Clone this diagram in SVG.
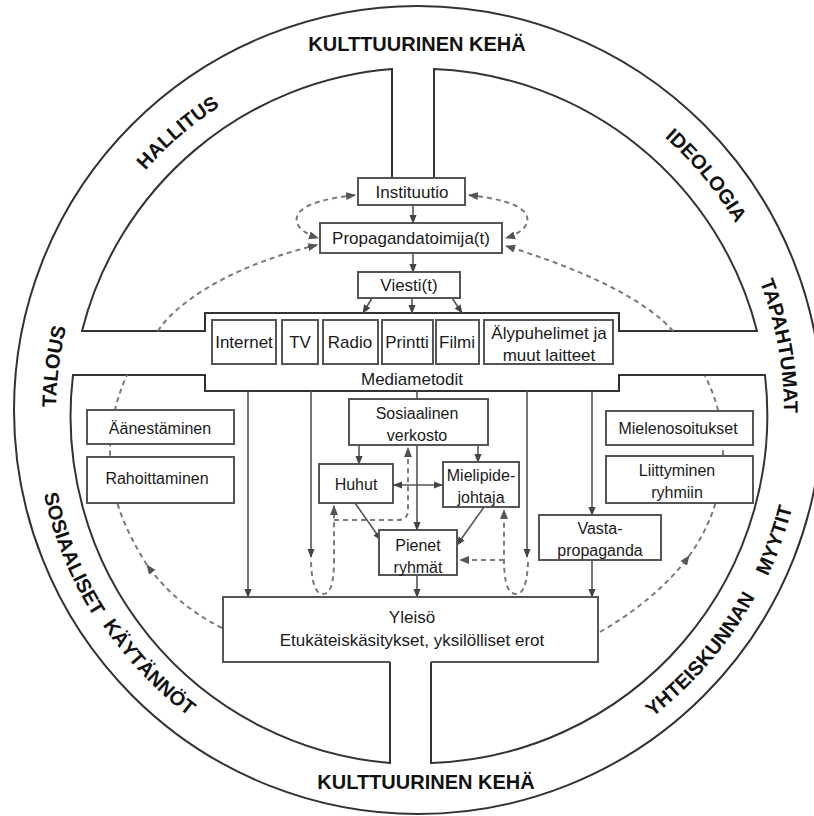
<svg xmlns="http://www.w3.org/2000/svg" width="814" height="816" viewBox="0 0 814 816">
<defs>
<style>
.ring{fill:none;stroke:#333;stroke-width:2}
.box{fill:#fff;stroke:#555;stroke-width:2}
.t{font-family:"Liberation Sans",Arial,sans-serif;font-size:16px;fill:#1a1a1a;text-anchor:middle}
.t17{font-size:17px}
.rt{font-family:"Liberation Sans",Arial,sans-serif;font-size:20px;font-weight:bold;fill:#111}
.a{fill:none;stroke:#555;stroke-width:1.6;marker-end:url(#ah)}
.a2{marker-start:url(#ah)}
.l{fill:none;stroke:#555;stroke-width:1.6}
.d{fill:none;stroke:#7a7a7a;stroke-width:2;stroke-dasharray:5 4}
.de{marker-end:url(#ahd)}
.ds{marker-start:url(#ahd)}
</style>
<marker id="ah" viewBox="0 0 10 10" refX="9" refY="5" markerWidth="9" markerHeight="9" markerUnits="userSpaceOnUse" orient="auto-start-reverse"><path d="M0,1 L10,5 L0,9 z" fill="#444"/></marker>
<marker id="ahd" viewBox="0 0 10 10" refX="9" refY="5" markerWidth="10" markerHeight="10" markerUnits="userSpaceOnUse" orient="auto-start-reverse"><path d="M0,1 L10,5 L0,9 z" fill="#555"/></marker>
<path id="pHall" d="M85.6,262.2 A365,365 0 0 1 319.9,61.4"/>
<path id="pIdeo" d="M577.3,79.1 A370,370 0 0 1 776.2,320.4"/>
<path id="pTapa" d="M716,200.5 A366,366 0 0 1 772.3,504.6"/>
<path id="pTalo" d="M73.1,523 A362,362 0 0 1 112,219.5"/>
<path id="pSosi" d="M35.5,394.3 A383,383 0 0 0 157.8,694"/>
<path id="pKayt" d="M57.4,532.9 A380,380 0 0 0 278.1,766.3"/>
<path id="pYhte" d="M577.2,762.4 A384,384 0 0 0 788,515.6"/>
<path id="pMyyt" d="M692.8,684 A386,386 0 0 0 802.3,376.7"/>
</defs>
<rect width="814" height="816" fill="#fff"/>

<g id="ring">
<circle class="ring" cx="418" cy="410" r="404"/>
<path class="ring" d="M392,178 L392,69 A348,348 0 0 0 82,331 L205,331 L205,313 L619,313 L619,331 L757,331 A348,348 0 0 0 434,69 L434,178"/>
<path class="ring" d="M390,662 L390,763 A348,348 0 0 1 73,375 L205,375 L205,391 L619,391 L619,375 L765,375 A348,348 0 0 1 431,763 L431,662"/>
<text class="rt" x="417" y="51" text-anchor="middle">KULTTUURINEN KEHÄ</text>
<text class="rt" x="426" y="789" text-anchor="middle">KULTTUURINEN KEHÄ</text>
<text class="rt"><textPath href="#pHall" startOffset="50%" text-anchor="middle">HALLITUS</textPath></text>
<text class="rt"><textPath href="#pIdeo" startOffset="50%" text-anchor="middle">IDEOLOGIA</textPath></text>
<text class="rt"><textPath href="#pTapa" startOffset="50%" text-anchor="middle">TAPAHTUMAT</textPath></text>
<text class="rt"><textPath href="#pTalo" startOffset="50%" text-anchor="middle">TALOUS</textPath></text>
<text class="rt"><textPath href="#pSosi" startOffset="50%" text-anchor="middle">SOSIAALISET</textPath></text>
<text class="rt"><textPath href="#pKayt" startOffset="50%" text-anchor="middle">KÄYTÄNNÖT</textPath></text>
<text class="rt"><textPath href="#pYhte" startOffset="50%" text-anchor="middle">YHTEISKUNNAN</textPath></text>
<text class="rt"><textPath href="#pMyyt" startOffset="50%" text-anchor="middle">MYYTIT</textPath></text>
</g>

<g id="connectors">
<!-- dashed feedback loops -->
<path class="d de ds" d="M355,195 C330,198 305,203 298,214 C293,224 302,233 318,238"/>
<path class="d de ds" d="M469,195 C494,198 519,203 526,214 C531,224 522,233 506,238"/>
<path class="d de" d="M158,331 C172,308 222,268 317,245"/>
<path class="d" d="M147,565 C125,530 110,495 110,455 C110,420 118,395 127,375"/>
<path class="d de" d="M222,628 C190,612 165,590 147,565"/>
<path class="d de" d="M673,331 C650,305 600,275 506,246"/>
<path class="d" d="M689,556 C708,530 723,495 723,452 C723,420 715,395 705,376"/>
<path class="d de" d="M600,632 C635,612 668,585 689,556"/>
<path class="d de" d="M311,562 C312,585 316,594 323,594 C330,594 334,585 334,560 L334,506"/>
<path class="d de" d="M334,520 L398,520 Q408,520 408,510 L408,448"/>
<path class="d de" d="M528,562 C527,585 523,594 516,594 C509,594 504,585 504,560 L504,510"/>
<path class="d de" d="M504,560 L460,560"/>
<!-- solid arrows -->
<path class="a" d="M413,205 L413,223"/>
<path class="a" d="M413,253 L413,272"/>
<path class="a" d="M372,298 L363,313"/>
<path class="a" d="M412,298 L412,313"/>
<path class="a" d="M452,298 L462,313"/>
<path class="l" d="M417,391 L417,399"/>
<path class="a" d="M359,445 L359,464"/>
<path class="a" d="M478,445 L478,462"/>
<path class="a" d="M417,445 L417,530"/>
<path class="a a2" d="M394,485 L442,485"/>
<path class="a" d="M355,503 L381,540"/>
<path class="a" d="M484,507 L457,545"/>
<path class="a" d="M417,575 L417,597"/>
<path class="a" d="M248,391 L248,597"/>
<path class="a" d="M311,391 L311,557"/>
<path class="a" d="M527,391 L527,557"/>
<path class="a" d="M592,391 L592,515"/>
<path class="a" d="M592,560 L592,597"/>
</g>

<g id="instituutio"><rect class="box" x="358" y="178" width="107" height="27"/><text class="t t17" x="412" y="198">Instituutio</text></g>
<g id="propagandatoimija"><rect class="box" x="320" y="223" width="182" height="30"/><text class="t t17" x="411" y="244">Propagandatoimija(t)</text></g>
<g id="viesti"><rect class="box" x="358" y="272" width="102" height="26"/><text class="t t17" x="409" y="291">Viesti(t)</text></g>

<g id="mediametodit"><text class="t t17" x="412" y="385">Mediametodit</text></g>
<g id="internet"><rect class="box" x="212" y="320" width="64" height="44"/><text class="t t17" x="244" y="348">Internet</text></g>
<g id="tv"><rect class="box" x="282" y="320" width="36" height="44"/><text class="t t17" x="300" y="348">TV</text></g>
<g id="radio"><rect class="box" x="323" y="320" width="55" height="44"/><text class="t t17" x="350" y="348">Radio</text></g>
<g id="printti"><rect class="box" x="382" y="320" width="51" height="44"/><text class="t t17" x="407" y="348">Printti</text></g>
<g id="filmi"><rect class="box" x="436" y="320" width="43" height="44"/><text class="t t17" x="457" y="348">Filmi</text></g>
<g id="alypuhelimet"><rect class="box" x="484" y="320" width="129" height="44"/><text class="t t17" x="549" y="339">Älypuhelimet ja</text><text class="t t17" x="549" y="361">muut laitteet</text></g>

<g id="aanestaminen"><rect class="box" x="87" y="410" width="147" height="34"/><text class="t" x="160" y="434">Äänestäminen</text></g>
<g id="rahoittaminen"><rect class="box" x="87" y="457" width="147" height="46"/><text class="t" x="157" y="484">Rahoittaminen</text></g>

<g id="sosiaalinen"><rect class="box" x="349" y="399" width="139" height="46"/><text class="t" x="417" y="419">Sosiaalinen</text><text class="t" x="417" y="441">verkosto</text></g>
<g id="huhut"><rect class="box" x="319" y="464" width="74" height="39"/><text class="t" x="356" y="490">Huhut</text></g>
<g id="mielipidejohtaja"><rect class="box" x="443" y="462" width="76" height="45"/><text class="t" x="481" y="481">Mielipide-</text><text class="t" x="481" y="503">johtaja</text></g>
<g id="pienet"><rect class="box" x="379" y="530" width="78" height="45"/><text class="t" x="418" y="551">Pienet</text><text class="t" x="418" y="573">ryhmät</text></g>

<g id="mielenosoitukset"><rect class="box" x="606" y="411" width="147" height="34"/><text class="t" x="678" y="434">Mielenosoitukset</text></g>
<g id="liittyminen"><rect class="box" x="606" y="456" width="147" height="47"/><text class="t" x="677" y="476">Liittyminen</text><text class="t" x="677" y="498">ryhmiin</text></g>
<g id="vastapropaganda"><rect class="box" x="539" y="515" width="122" height="45"/><text class="t" x="600" y="534">Vasta-</text><text class="t" x="600" y="556">propaganda</text></g>

<g id="yleiso"><path class="box" d="M390,662 L223,662 L223,597 L598,597 L598,662 L431,662"/><text class="t t17" x="412" y="623">Yleisö</text><text class="t t17" x="412" y="646">Etukäteiskäsitykset, yksilölliset erot</text></g>
</svg>
